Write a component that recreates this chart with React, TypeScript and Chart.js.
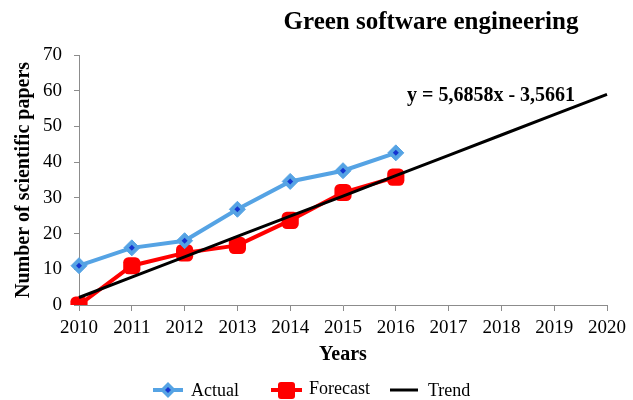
import React, { useEffect, useRef } from "react";
import { Chart, registerables } from "chart.js";

Chart.register(...registerables);

const years = ["2010", "2011", "2012", "2013", "2014", "2015", "2016", "2017", "2018", "2019", "2020"];
const actual = [11, 16, 18, 26.8, 34.6, 37.6, 42.6, null, null, null, null];
const forecast = [0, 11, 14.6, 16.7, 23.7, 31.5, 35.8, null, null, null, null];
const trend = [2.1, 7.8, 13.5, 19.2, 24.9, 30.5, 36.2, 41.9, 47.6, 53.3, 59.0];

const titleText = "Green software engineering";
const equationText = "y = 5,6858x - 3,5661";
const xTitle = "Years";
const yTitle = "Number of scientific papers";
const legendLabels = ["Actual", "Forecast", "Trend"];

const SERIF = "'Liberation Serif', 'Times New Roman', serif";
const BLUE = "#55a3e4";
const DOT = "#1535d0";
const RED = "#ff0000";
const AXIS = "#8c8c8c";

const decor = {
  id: "decor",
  afterDraw(chart: any) {
    const ctx = chart.ctx as CanvasRenderingContext2D;
    ctx.save();
    ctx.fillStyle = "#000";
    ctx.textBaseline = "alphabetic";
    ctx.textAlign = "center";
    ctx.font = `bold 25px ${SERIF}`;
    ctx.fillText(titleText, 431, 29);
    ctx.textAlign = "left";
    ctx.font = `bold 20px ${SERIF}`;
    ctx.fillText(equationText, 407, 101);

    // legend
    const ly = 390;
    ctx.font = `18px ${SERIF}`;
    ctx.textBaseline = "middle";
    // Actual
    ctx.strokeStyle = BLUE;
    ctx.lineWidth = 4;
    ctx.beginPath();
    ctx.moveTo(153, ly);
    ctx.lineTo(183, ly);
    ctx.stroke();
    ctx.fillStyle = BLUE;
    ctx.beginPath();
    ctx.moveTo(168, ly - 8);
    ctx.lineTo(176, ly);
    ctx.lineTo(168, ly + 8);
    ctx.lineTo(160, ly);
    ctx.closePath();
    ctx.fill();
    ctx.fillStyle = DOT;
    ctx.beginPath();
    ctx.moveTo(168, ly - 3);
    ctx.lineTo(171, ly);
    ctx.lineTo(168, ly + 3);
    ctx.lineTo(165, ly);
    ctx.closePath();
    ctx.fill();
    ctx.fillStyle = "#000";
    ctx.fillText(legendLabels[0], 191, ly + 1);
    // Forecast
    ctx.strokeStyle = RED;
    ctx.beginPath();
    ctx.moveTo(271, ly);
    ctx.lineTo(302, ly);
    ctx.stroke();
    ctx.fillStyle = RED;
    ctx.beginPath();
    (ctx as any).roundRect(278, ly - 8, 17, 17, 3);
    ctx.fill();
    ctx.fillStyle = "#000";
    ctx.fillText(legendLabels[1], 309, ly - 1);
    // Trend
    ctx.strokeStyle = "#000";
    ctx.lineWidth = 3;
    ctx.beginPath();
    ctx.moveTo(390, ly);
    ctx.lineTo(418, ly);
    ctx.stroke();
    ctx.fillText(legendLabels[2], 428, ly + 1);
    ctx.restore();
  },
};

export default function App() {
  const ref = useRef<HTMLCanvasElement | null>(null);
  useEffect(() => {
    if (!ref.current) return;
    const tickFont = { family: SERIF, size: 19 };
    const chart = new Chart(ref.current, {
      type: "line",
      data: {
        labels: years,
        datasets: [
          {
            label: "ActualDot",
            data: actual,
            showLine: false,
            pointStyle: "rectRot",
            pointRadius: 3,
            pointBackgroundColor: DOT,
            pointBorderColor: DOT,
            pointBorderWidth: 0,
            order: 0,
          },
          {
            label: legendLabels[0],
            data: actual,
            borderColor: BLUE,
            backgroundColor: BLUE,
            borderWidth: 4,
            pointStyle: "rectRot",
            pointRadius: 8,
            pointBackgroundColor: BLUE,
            pointBorderColor: BLUE,
            pointBorderWidth: 1,
            order: 1,
          },
          {
            label: legendLabels[2],
            data: trend,
            borderColor: "#000",
            borderWidth: 3,
            pointRadius: 0,
            order: 2,
          },
          {
            label: legendLabels[1],
            data: forecast,
            borderColor: RED,
            backgroundColor: RED,
            borderWidth: 4,
            pointStyle: "rectRounded",
            pointRadius: 10,
            pointBackgroundColor: RED,
            pointBorderColor: RED,
            pointBorderWidth: 0,
            order: 3,
          },
        ],
      },
      options: {
        responsive: false,
        animation: false,
        layout: { padding: { top: 55, right: 26, bottom: 33, left: 0 } },
        plugins: {
          legend: { display: false },
          title: { display: false },
          tooltip: { enabled: false },
        },
        scales: {
          x: {
            offset: false,
            grid: { display: true, drawOnChartArea: false, tickLength: 6, color: AXIS },
            border: { color: AXIS, width: 1 },
            ticks: { font: tickFont, color: "#000", padding: 6, maxRotation: 0, autoSkip: false },
            title: {
              display: true,
              text: xTitle,
              color: "#000",
              font: { family: SERIF, size: 20, weight: "bold" },
              padding: { top: 0, bottom: 0 },
            },
            afterFit: (s: any) => {
              s.height = 62;
            },
          },
          y: {
            min: 0,
            max: 70,
            ticks: { stepSize: 10, font: tickFont, color: "#000", padding: 12 },
            grid: { display: true, drawOnChartArea: false, tickLength: 5, color: AXIS },
            border: { color: AXIS, width: 1 },
            title: {
              display: true,
              text: yTitle,
              color: "#000",
              font: { family: SERIF, size: 20, weight: "bold" },
              padding: { top: 12, bottom: 0 },
            },
            afterFit: (s: any) => {
              s.width = 79;
            },
          },
        },
      } as any,
      plugins: [decor],
    });
    return () => chart.destroy();
  }, []);
  return (
    <div style={{ position: "absolute", left: 0, top: 0, width: 633, height: 400 }}>
      <canvas ref={ref} width={633} height={400} style={{ display: "block" }} />
    </div>
  );
}
